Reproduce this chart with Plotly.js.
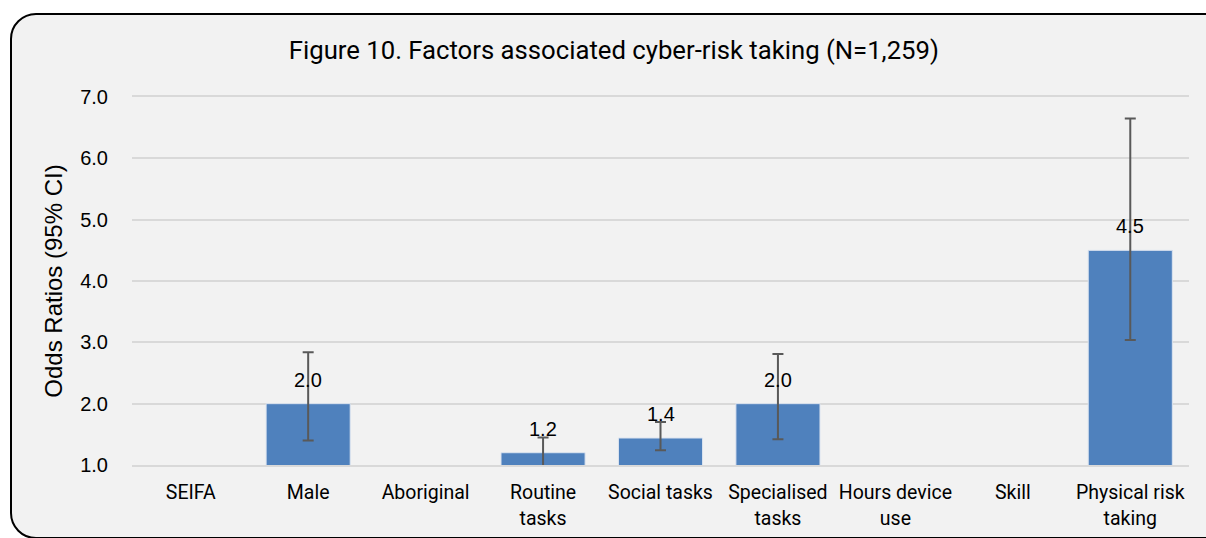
<!DOCTYPE html>
<html>
<head>
<meta charset="utf-8">
<script src="https://cdn.plot.ly/plotly-3.0.1.min.js"></script>
<style>
  html, body { margin: 0; padding: 0; background: #ffffff; width: 1206px; height: 538px; overflow: hidden; }
  #frame {
    position: absolute; left: 10px; top: 13px; width: 1230px; height: 522px;
    background: #f2f2f2; border: 2px solid #000; border-radius: 26px;
  }
  #chart { position: absolute; left: 0; top: 0; width: 1206px; height: 538px; }
</style>
</head>
<body>
<div id="frame"></div>
<div id="chart"></div>
<script>
// Odds ratios with 95% confidence intervals for each factor
const categories = ['SEIFA', 'Male', 'Aboriginal', 'Routine tasks', 'Social tasks',
                    'Specialised tasks', 'Hours device use', 'Skill', 'Physical risk taking'];
const tickLabels = ['SEIFA', 'Male', 'Aboriginal', 'Routine<br>tasks', 'Social tasks',
                    'Specialised<br>tasks', 'Hours device<br>use', 'Skill', 'Physical risk<br>taking'];
const oddsRatios = [null, 2.0, null, 1.2, 1.44, 2.0, null, null, 4.5];
const ciLower    = [null, 1.40, null, 0.97, 1.24, 1.42, null, null, 3.04];
const ciUpper    = [null, 2.84, null, 1.45, 1.70, 2.81, null, null, 6.65];
const yTicks     = [1, 2, 3, 4, 5, 6, 7];

const plusErr  = oddsRatios.map((v, i) => v == null ? null : ciUpper[i] - v);
const minusErr = oddsRatios.map((v, i) => v == null ? null : v - ciLower[i]);

const bars = {
  type: 'bar',
  x: categories,
  y: oddsRatios,
  marker: { color: '#4f81bd', line: { color: '#dce4f0', width: 1 } },
  error_y: {
    type: 'data', symmetric: false,
    array: plusErr, arrayminus: minusErr,
    color: '#595959', thickness: 2, width: 5.5
  },
  hoverinfo: 'x+y'
};

// Value labels above each bar
const labels = [];
oddsRatios.forEach((v, i) => {
  if (v == null) return;
  labels.push({
    x: categories[i], y: v, xref: 'x', yref: 'y',
    text: v.toFixed(1), showarrow: false,
    yanchor: 'bottom', yshift: 11,
    font: { family: 'Liberation Sans, Arial, sans-serif', size: 20, color: '#000' }
  });
});

const layout = {
  width: 1206, height: 538,
  margin: { l: 132, r: 17, t: 97, b: 73 },
  paper_bgcolor: 'rgba(0,0,0,0)',
  plot_bgcolor: 'rgba(0,0,0,0)',
  showlegend: false,
  bargap: 0.284,
  title: {
    text: 'Figure 10. Factors associated cyber-risk taking (N=1,259)',
    font: { family: 'Roboto, sans-serif', size: 25.7, color: '#000' },
    x: 0.509, xanchor: 'center', y: 0.907, yanchor: 'middle'
  },
  xaxis: {
    type: 'category',
    tickvals: categories, ticktext: tickLabels,
    tickfont: { family: 'Roboto, sans-serif', size: 19.5, color: '#000' },
    showgrid: false,
    showline: true, mirror: true, linecolor: '#d9d9d9', linewidth: 2,
    ticks: 'outside', ticklen: 9, tickcolor: 'rgba(0,0,0,0)'
  },
  yaxis: {
    range: [1, 7],
    tickvals: yTicks,
    tickformat: '.1f',
    tickfont: { family: 'Liberation Sans, Arial, sans-serif', size: 20, color: '#000' },
    gridcolor: '#d9d9d9', gridwidth: 2,
    zeroline: false, showline: false,
    ticks: 'outside', ticklen: 19, tickcolor: 'rgba(0,0,0,0)',
    title: {
      text: 'Odds Ratios (95% CI)',
      font: { family: 'Liberation Sans, Arial, sans-serif', size: 24, color: '#000' },
      standoff: 10
    }
  },
  annotations: labels
};

Plotly.newPlot('chart', [bars], layout, { displayModeBar: false, staticPlot: true });
</script>
</body>
</html>
